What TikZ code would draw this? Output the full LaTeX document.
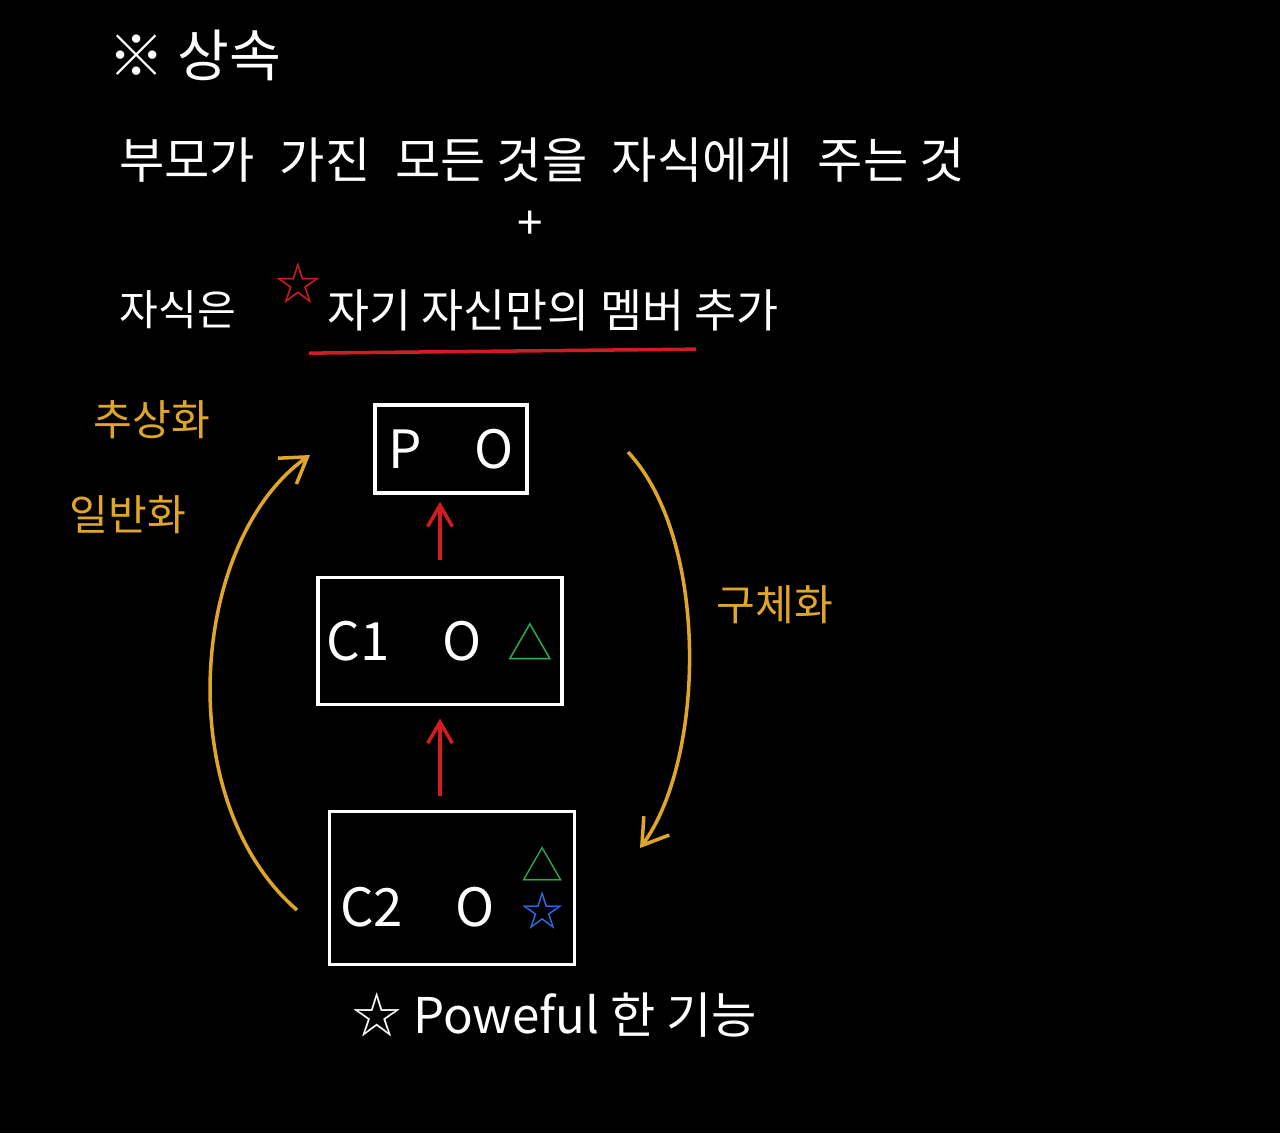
\documentclass[tikz,border=0pt]{standalone}
\usepackage{fontspec}
\setmainfont{Noto Sans CJK KR}
\usetikzlibrary{arrows.meta,positioning}
\definecolor{chalkred}{HTML}{D21C24}
\definecolor{chalkgold}{HTML}{E0A62A}
\definecolor{chalkgreen}{HTML}{2FA84A}
\definecolor{chalkblue}{HTML}{2F6FE8}

\begin{document}
\begin{tikzpicture}[
  x=0.01cm, y=-0.01cm,
  hand/.style={text=white, font=\fontsize{13}{15}\selectfont},
  note/.style={text=chalkgold, font=\fontsize{12}{14}\selectfont},
  cls/.style={rectangle, draw=white, line width=1pt, text=white, inner sep=2pt,
    font=\fontsize{15}{17}\selectfont},
  inh/.style={-{Straight Barb[length=6pt,width=7pt]}, chalkred, line width=1pt},
  flow/.style={-{Straight Barb[length=7pt,width=9pt]}, chalkgold, line width=1pt}
]
\fill[black] (0,0) rectangle (1280,1133);

% Heading
\node[hand, font=\fontsize{16}{18}\selectfont] (title) at (195,55) {※ 상속};
\node[hand, font=\fontsize{14}{16}\selectfont] (give) at (542,160) {부모가\enspace 가진\enspace 모든 것을\enspace 자식에게\enspace 주는 것};
\node[hand] (plus) at (530,225) {+};
\node[hand, font=\fontsize{12}{14}\selectfont] (child) at (178,310) {자식은};
\node[hand, text=chalkred] (mark) at (298,283) {☆};
\node[hand] (own) at (553,310) {자기 자신만의 멤버 추가};
\draw[chalkred, line width=1pt] ([shift={(-6,10)}]own.south west) -- ([shift={(-95,6)}]own.south east);

% Classes
\node[cls, minimum width=1.52cm, minimum height=0.88cm] (p) at (451,449) {P\quad O};
\node[cls, minimum width=2.44cm, minimum height=1.27cm] (c1) at (440,641)
  {C1\quad O\enspace{\fontsize{13}{13}\selectfont\textcolor{chalkgreen}{△}}};
\node[cls, minimum width=2.45cm, minimum height=1.53cm] (c2) at (452,888)
  {C2\quad O\enspace{\fontsize{12}{12}\selectfont\shortstack{\textcolor{chalkgreen}{△}\\\textcolor{chalkblue}{☆}}}};

% Inheritance arrows
\draw[inh, shorten <=4.5pt, shorten >=2pt] (c1.north) -- (c1.north |- p.south);
\draw[inh, shorten <=4pt, shorten >=3.5pt] (c2.north -| c1.south) -- (c1.south);

% Abstraction / concretion
\coordinate (gen-from) at (297,910);
\coordinate (gen-to) at (310,455);
\draw[flow] (gen-from) .. controls (170,800) and (190,540) .. (gen-to);
\coordinate (spec-from) at (628,452);
\coordinate (spec-to) at (640,848);
\draw[flow] (spec-from) .. controls (710,540) and (705,760) .. (spec-to);

\node[note] (abs) at (152,420) {추상화};
\node[note] (gen) at (128,515) {일반화};
\node[note] (con) at (775,605) {구체화};

% Footnote
\node[hand, font=\fontsize{14}{16}\selectfont] (power) at (555,1015) {☆ Poweful 한 기능};

\end{tikzpicture}
\end{document}
